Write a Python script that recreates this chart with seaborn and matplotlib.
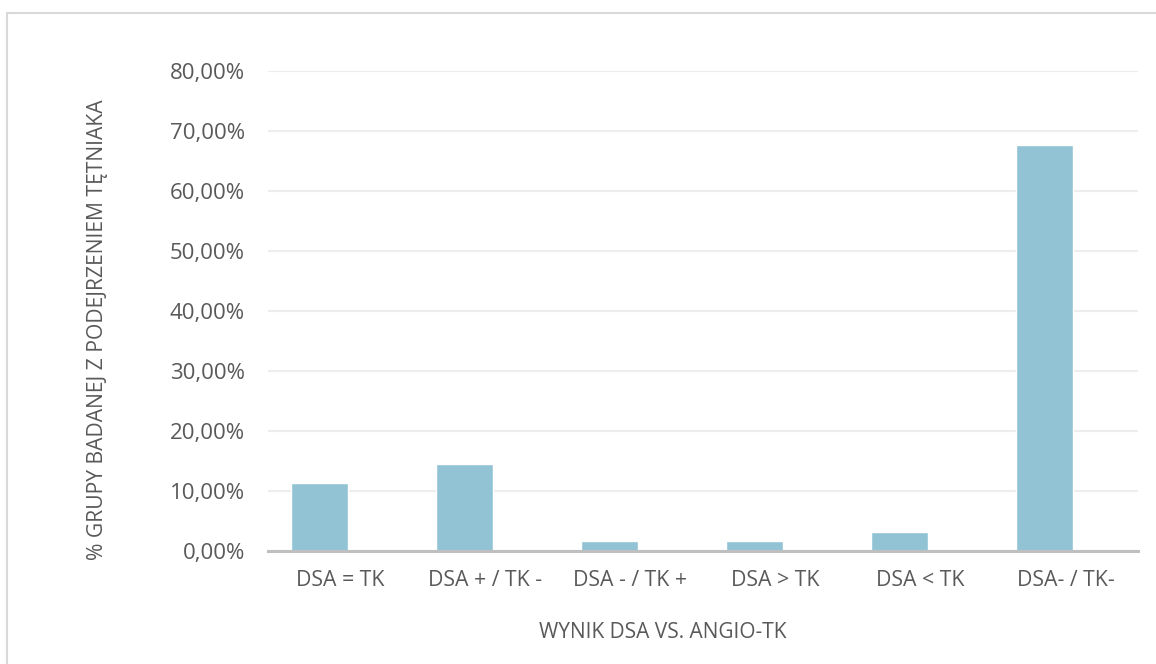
import matplotlib
matplotlib.use("Agg")
import matplotlib.pyplot as plt
import seaborn as sns
import pandas as pd
from matplotlib.patches import Rectangle

categories = ["DSA = TK", "DSA + / TK -", "DSA - / TK +", "DSA > TK", "DSA < TK", "DSA- / TK-"]
percent = [11.29, 14.52, 1.61, 1.61, 3.23, 67.74]
y_ticks = [0, 10, 20, 30, 40, 50, 60, 70, 80]
y_tick_labels = ["0,00%", "10,00%", "20,00%", "30,00%", "40,00%", "50,00%", "60,00%", "70,00%", "80,00%"]

sns.set_theme(style="white")
plt.rcParams["font.family"] = ["Open Sans", "DejaVu Sans"]

text_color = "#595959"
bar_color = "#92C3D5"

df = pd.DataFrame({"wynik": categories, "procent": percent})

fig = plt.figure(figsize=(11.56, 6.64), dpi=100)
ax = fig.add_axes([268 / 1156, 113 / 664, 870 / 1156, 480 / 664])

sns.barplot(data=df, x="wynik", y="procent", color=bar_color, saturation=1,
            width=0.393, ax=ax, zorder=3)

ax.set_ylim(0, 80)
ax.set_xlim(-0.355, 5.645)
ax.set_yticks(y_ticks)
ax.set_yticklabels(y_tick_labels)
ax.set_xticks([i + 0.145 for i in range(len(categories))])
ax.set_xticklabels(categories)

ax.grid(axis="y", color="#EDEDED", linewidth=1.6, zorder=0)
ax.grid(axis="x", visible=False)
for side in ["left", "right", "top"]:
    ax.spines[side].set_visible(False)
ax.spines["bottom"].set_color("#BFBFBF")
ax.spines["bottom"].set_linewidth(2.2)
ax.spines["bottom"].set_zorder(4)

ax.tick_params(axis="y", length=0, pad=16.5, labelsize=16, labelcolor=text_color)
ax.tick_params(axis="x", length=0, pad=14, labelsize=15.3, labelcolor=text_color)

ax.set_xlabel("WYNIK DSA VS. ANGIO-TK", fontsize=15, color=text_color)
ax.xaxis.set_label_coords(663 / 1156, (664 - 622) / 664, transform=fig.transFigure)
ax.set_ylabel("% GRUPY BADANEJ Z PODEJRZENIEM TĘTNIAKA", fontsize=15.2, color=text_color)
ax.yaxis.set_label_coords(108 / 1156, (664 - 330) / 664, transform=fig.transFigure)

# chart area frame
fig.patches.append(Rectangle((7 / 1156, -0.1), 1.2, (664 - 13) / 664 + 0.1,
                             transform=fig.transFigure, fill=False,
                             edgecolor="#D9D9D9", linewidth=1.5))

fig.savefig("out.png", dpi=100)
